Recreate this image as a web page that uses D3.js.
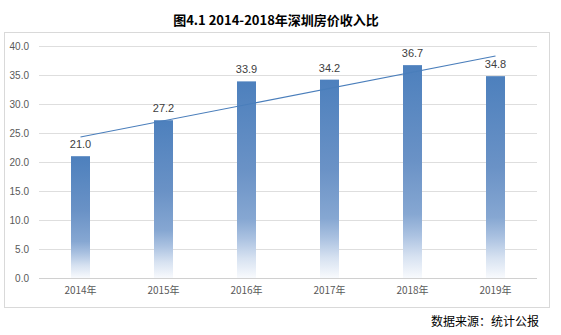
<!DOCTYPE html>
<html>
<head>
<meta charset="utf-8">
<script src="https://cdn.jsdelivr.net/npm/d3@7"></script>
<style>
  body { margin: 0; background: #fff; }
  svg { display: block; }
</style>
</head>
<body>
<svg id="chart" width="561" height="335"></svg>
<script>
// Shenzhen house price-to-income ratio by year
const years = ["2014年", "2015年", "2016年", "2017年", "2018年", "2019年"];
const ratios = [21.0, 27.2, 33.9, 34.2, 36.7, 34.8];
const yTicks = [0, 5, 10, 15, 20, 25, 30, 35, 40];
const titleText = "图4.1 2014-2018年深圳房价收入比";
const sourceText = "数据来源：统计公报";

const svg = d3.select("#chart");
const plot = { left: 39, right: 537, top: 46, bottom: 278 };
const barColor = "#4a7ebb";

// gradient fill for the columns: solid blue at top fading to white at the base
const defs = svg.append("defs");
const grad = defs.append("linearGradient")
  .attr("id", "barGrad").attr("x1", 0).attr("y1", 0).attr("x2", 0).attr("y2", 1);
[[0, "#4d80bd"], [0.45, "#6a92c6"], [0.7, "#86a7d2"], [0.8, "#abc2e1"], [0.9, "#d7e2f1"], [1, "#f8fafd"]]
  .forEach(([o, c]) => grad.append("stop").attr("offset", o).attr("stop-color", c));

// title
svg.append("text")
  .attr("x", 276).attr("y", 25)
  .attr("text-anchor", "middle")
  .attr("font-family", "'Noto Sans CJK SC', sans-serif")
  .attr("font-weight", "bold")
  .attr("font-size", 13)
  .attr("fill", "#000")
  .text(titleText);

// chart frame
svg.append("rect")
  .attr("x", 4.5).attr("y", 32.5).attr("width", 545).attr("height", 275)
  .attr("fill", "none").attr("stroke", "#d9d9d9").attr("stroke-width", 1);

const x = d3.scaleBand().domain(years).range([plot.left, plot.right]).paddingInner(0).paddingOuter(0);
const y = d3.scaleLinear().domain([0, 40]).range([plot.bottom, plot.top]);

// horizontal gridlines
svg.append("g")
  .selectAll("line").data(yTicks).join("line")
  .attr("x1", plot.left).attr("x2", plot.right)
  .attr("y1", d => Math.round(y(d)) + 0.5).attr("y2", d => Math.round(y(d)) + 0.5)
  .attr("stroke", d => d === 0 ? "#d0d0d0" : "#dedede").attr("stroke-width", 1);

// y axis labels
const yAxis = d3.axisLeft(y).tickValues(yTicks).tickFormat(d3.format(".1f")).tickSize(0).tickPadding(10);
const gy = svg.append("g").attr("transform", `translate(${plot.left},0)`).call(yAxis);
gy.select(".domain").remove();
gy.selectAll("text")
  .attr("font-family", "'Liberation Sans', Arial, sans-serif")
  .attr("font-size", 10).attr("fill", "#595959");

// x axis labels
const xAxis = d3.axisBottom(x).tickSize(0).tickPadding(9);
const gx = svg.append("g").attr("transform", `translate(0,${plot.bottom})`).call(xAxis);
gx.select(".domain").remove();
gx.selectAll("text")
  .attr("font-family", "'Noto Sans CJK SC', sans-serif")
  .attr("font-size", 10).attr("fill", "#595959");

// columns
const barW = 19;
svg.append("g").selectAll("rect").data(ratios).join("rect")
  .attr("x", (d, i) => x(years[i]) + x.bandwidth() / 2 - barW / 2)
  .attr("y", d => y(d))
  .attr("width", barW)
  .attr("height", d => y(0) - y(d))
  .attr("fill", "url(#barGrad)");

// value labels
svg.append("g").selectAll("text").data(ratios).join("text")
  .attr("x", (d, i) => x(years[i]) + x.bandwidth() / 2)
  .attr("y", d => y(d) - 8)
  .attr("text-anchor", "middle")
  .attr("font-family", "'Liberation Sans', Arial, sans-serif")
  .attr("font-size", 11).attr("fill", "#404040")
  .text(d => d.toFixed(1));

// linear trend line (least squares over the yearly values)
const idx = ratios.map((_, i) => i);
const mx = d3.mean(idx), my = d3.mean(ratios);
const slope = d3.sum(idx, i => (i - mx) * (ratios[i] - my)) / d3.sum(idx, i => (i - mx) ** 2);
const intercept = my - slope * mx;
const ends = [0, ratios.length - 1];
svg.append("path")
  .datum(ends)
  .attr("d", d3.line()
    .x(i => x(years[i]) + x.bandwidth() / 2)
    .y(i => y(intercept + slope * i)))
  .attr("fill", "none").attr("stroke", barColor).attr("stroke-width", 1.1);

// source note
svg.append("text")
  .attr("x", 539).attr("y", 326)
  .attr("text-anchor", "end")
  .attr("font-family", "'Noto Sans CJK SC', sans-serif")
  .attr("font-size", 12).attr("fill", "#000")
  .text(sourceText);
</script>
</body>
</html>
